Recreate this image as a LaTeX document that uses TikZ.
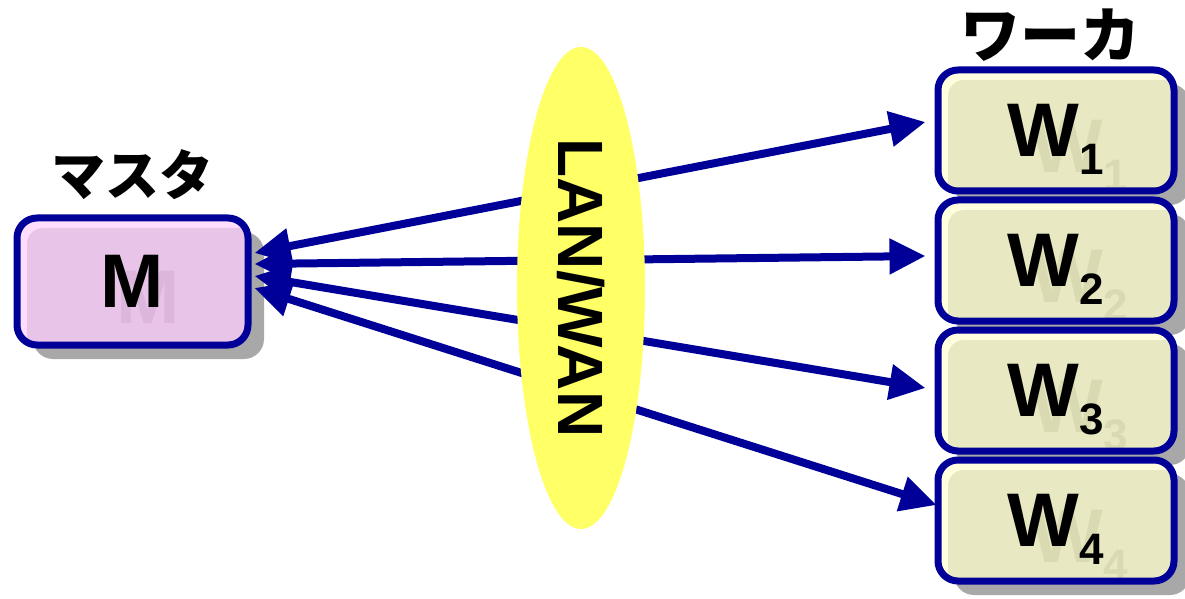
\documentclass[tikz,border=0pt]{standalone}
\usepackage{fontspec}
\setmainfont{Liberation Sans}
\newfontfamily\jpfont{Noto Sans CJK JP}
\usetikzlibrary{arrows.meta,shapes.geometric,shadows,positioning}

\definecolor{linkblue}{HTML}{000099}
\definecolor{masterfill}{HTML}{E8C4E8}
\definecolor{masterlight}{HTML}{FFDDFF}
\definecolor{masterghost}{HTML}{DCB6DC}
\definecolor{workerfill}{HTML}{E8E8C2}
\definecolor{workerlight}{HTML}{FFFFE0}
\definecolor{workerghost}{HTML}{D9D9B2}
\definecolor{shadowgray}{HTML}{A8A8A8}
\definecolor{netyellow}{HTML}{FFFF66}

\newcommand{\wname}[1]{W\raisebox{-9pt}{\fontsize{22}{22}\selectfont #1}}

\begin{document}
\begin{tikzpicture}[x=0.5pt,y=-0.5pt,
    box/.style={rounded corners=10pt, draw=linkblue, line width=3.5pt,
      inner sep=0pt, text depth=0pt, font=\fontsize{38}{38}\selectfont\bfseries,
      drop shadow={shadow xshift=8pt, shadow yshift=-7pt, fill=shadowgray, opacity=1}},
    master/.style={box, fill=masterlight, minimum width=115.5pt, minimum height=63.5pt},
    worker/.style={box, fill=workerlight, minimum width=118pt, minimum height=60.5pt},
    ghostM/.style={path picture={
        \fill[masterfill, rounded corners=8pt]
          ([shift={(5pt,-5pt)}]path picture bounding box.north west)
          rectangle ([shift={(10pt,-10pt)}]path picture bounding box.south east);
        \node[anchor=center, inner sep=0pt, text depth=0pt, text=masterghost,
          font=\fontsize{38}{38}\selectfont\bfseries]
          at ([shift={(8pt,-8pt)}]path picture bounding box.center) {#1};
      }},
    ghostW/.style={path picture={
        \fill[workerfill, rounded corners=8pt]
          ([shift={(5pt,-5pt)}]path picture bounding box.north west)
          rectangle ([shift={(10pt,-10pt)}]path picture bounding box.south east);
        \node[anchor=center, inner sep=0pt, text depth=0pt, text=workerghost,
          font=\fontsize{38}{38}\selectfont\bfseries]
          at ([shift={(12pt,-8pt)}]path picture bounding box.center) {#1};
      }},
    jplabel/.style={inner sep=0pt, font=\jpfont\bfseries\fontsize{27}{27}\selectfont},
    net/.style={ellipse, fill=netyellow, inner sep=0pt, minimum width=241pt,
      minimum height=64pt, font=\fontsize{32}{32}\selectfont\bfseries},
    link/.style={draw=linkblue, line width=4pt,
      {Triangle[length=18pt,width=17pt]}-{Triangle[length=18pt,width=17pt]}}]

  \useasboundingbox (0,0) rectangle (1185,599);

  % Workers
  \node[worker, ghostW={\wname{1}}] (W1) at (1056,130.5) {\wname{1}};
  \node[worker, ghostW={\wname{2}}, below=1pt of W1] (W2) {\wname{2}};
  \node[worker, ghostW={\wname{3}}, below=1pt of W2] (W3) {\wname{3}};
  \node[worker, ghostW={\wname{4}}, below=1pt of W3] (W4) {\wname{4}};
  \node[jplabel, font=\jpfont\bfseries\fontsize{30}{30}\selectfont,
    above=2.5pt of W1, xshift=-3pt] (wlabel) {ワーカ};

  % Master
  \node[master, ghostM={M}] (M) at (132.5,281.5) {M};
  \node[jplabel, above=7pt of M] (mlabel) {マスタ};

  % Links master <-> workers
  \draw[link] ([shift={(3,-28.5)}]M.east) -- ([shift={(-9,-8.5)}]W1.west);
  \draw[link] ([shift={(3,-17.5)}]M.east) -- ([shift={(-9,-4.5)}]W2.west);
  \draw[link] ([shift={(3,-5.5)}]M.east) -- ([shift={(-9,-2.5)}]W3.west);
  \draw[link] ([shift={(3,6.5)}]M.east) -- ([shift={(2,-15.5)}]W4.west);

  % Network
  \node[net, rotate=-90] (net) at (581,288) {LAN/WAN};
\end{tikzpicture}
\end{document}
